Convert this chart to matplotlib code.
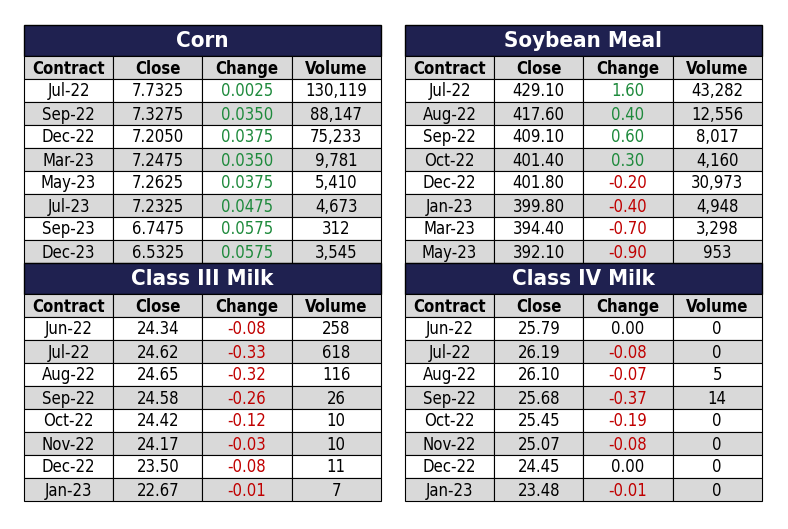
import matplotlib.pyplot as plt
from matplotlib.patches import Rectangle

corn_contract = ['Jul-22', 'Sep-22', 'Dec-22', 'Mar-23', 'May-23', 'Jul-23', 'Sep-23', 'Dec-23']
corn_close = ['7.7325', '7.3275', '7.2050', '7.2475', '7.2625', '7.2325', '6.7475', '6.5325']
corn_change = ['0.0025', '0.0350', '0.0375', '0.0350', '0.0375', '0.0475', '0.0575', '0.0575']
corn_volume = ['130,119', '88,147', '75,233', '9,781', '5,410', '4,673', '312', '3,545']

meal_contract = ['Jul-22', 'Aug-22', 'Sep-22', 'Oct-22', 'Dec-22', 'Jan-23', 'Mar-23', 'May-23']
meal_close = ['429.10', '417.60', '409.10', '401.40', '401.80', '399.80', '394.40', '392.10']
meal_change = ['1.60', '0.40', '0.60', '0.30', '-0.20', '-0.40', '-0.70', '-0.90']
meal_volume = ['43,282', '12,556', '8,017', '4,160', '30,973', '4,948', '3,298', '953']

milk3_contract = ['Jun-22', 'Jul-22', 'Aug-22', 'Sep-22', 'Oct-22', 'Nov-22', 'Dec-22', 'Jan-23']
milk3_close = ['24.34', '24.62', '24.65', '24.58', '24.42', '24.17', '23.50', '22.67']
milk3_change = ['-0.08', '-0.33', '-0.32', '-0.26', '-0.12', '-0.03', '-0.08', '-0.01']
milk3_volume = ['258', '618', '116', '26', '10', '10', '11', '7']

milk4_contract = ['Jun-22', 'Jul-22', 'Aug-22', 'Sep-22', 'Oct-22', 'Nov-22', 'Dec-22', 'Jan-23']
milk4_close = ['25.79', '26.19', '26.10', '25.68', '25.45', '25.07', '24.45', '23.48']
milk4_change = ['0.00', '-0.08', '-0.07', '-0.37', '-0.19', '-0.08', '0.00', '-0.01']
milk4_volume = ['0', '0', '5', '14', '0', '0', '0', '0']

headers = ['Contract', 'Close', 'Change', 'Volume']
NAVY = '#1f2150'
GRAY = '#d9d9d9'
GREEN = '#1e8a3c'
RED = '#c00000'
FONT = ['DejaVu Sans']

fig = plt.figure(figsize=(7.88, 5.29), dpi=100)
ax = fig.add_axes([0, 0, 1, 1])
ax.set_xlim(0, 788)
ax.set_ylim(529, 0)
ax.axis('off')


def change_color(v):
    f = float(v)
    if f > 0:
        return GREEN
    if f < 0:
        return RED
    return 'black'


def draw_table(x0, y0, title, cols):
    w = 89.2
    tw = w * 4
    ax.add_patch(Rectangle((x0, y0), tw, 31, facecolor=NAVY, edgecolor='black', lw=1))
    ax.text(x0 + tw / 2, y0 + 16, title, color='white', fontsize=16, fontweight='bold',
            fontstretch='condensed', ha='center', va='center', family=FONT)
    rh = 23
    y = y0 + 31
    rows = [headers] + list(zip(*cols))
    for i, row in enumerate(rows):
        bg = GRAY if i % 2 == 0 else 'white'
        for j, val in enumerate(row):
            ax.add_patch(Rectangle((x0 + j * w, y), w, rh, facecolor=bg, edgecolor='black', lw=0.8))
            color = 'black'
            if i > 0 and j == 2:
                color = change_color(val)
            ax.text(x0 + j * w + w / 2, y + rh / 2 + 1, val, color=color, fontsize=12,
                    fontweight='bold' if i == 0 else 'normal', fontstretch='condensed',
                    ha='center', va='center', family=FONT)
        y += rh
    return y


yb = draw_table(24, 25, 'Corn', [corn_contract, corn_close, corn_change, corn_volume])
draw_table(405, 25, 'Soybean Meal', [meal_contract, meal_close, meal_change, meal_volume])
draw_table(24, yb, 'Class III Milk', [milk3_contract, milk3_close, milk3_change, milk3_volume])
draw_table(405, yb, 'Class IV Milk', [milk4_contract, milk4_close, milk4_change, milk4_volume])

fig.savefig('out.png', dpi=100)
